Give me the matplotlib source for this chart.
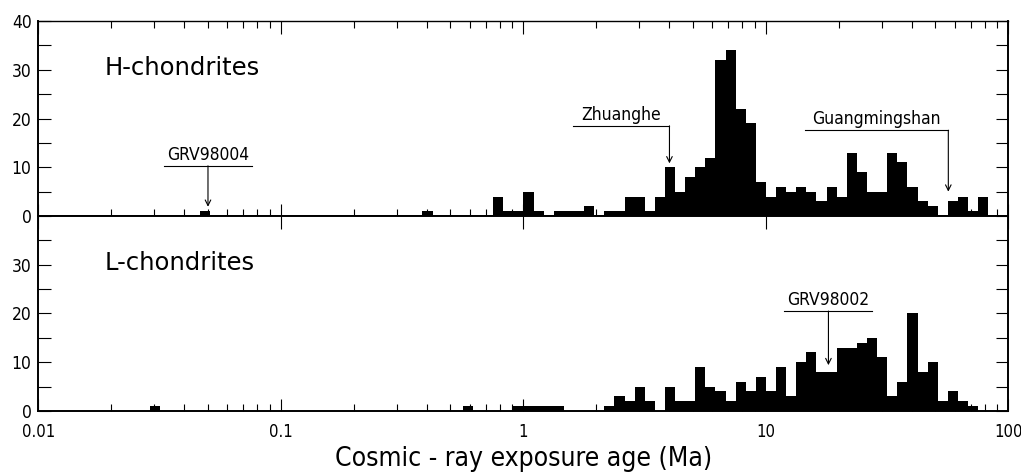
import numpy as np
import matplotlib
matplotlib.use("Agg")
import matplotlib.pyplot as plt
from matplotlib.ticker import FixedLocator, NullFormatter, FixedFormatter

plt.rcParams['font.family'] = ['DejaVu Sans']
plt.rcParams['font.stretch'] = 'condensed'

# histogram bins: 24 per decade, bin k covers 10**(k/24) .. 10**((k+1)/24) Ma
bins_per_decade = 24

# H-chondrites, counts for consecutive bins starting at k = -3 (~0.75 Ma)
h_start = -3
h_counts = [4, 1, 1, 5, 1, 0, 1, 1, 1, 2, 0, 1, 1, 4, 4, 1, 4, 10, 5, 8,
            10, 12, 32, 34, 22, 19, 7, 4, 6, 5, 6, 5, 3, 6, 4, 13, 9, 5, 5, 13,
            11, 6, 3, 2, 0, 3, 4, 1, 4]
h_single_bins = [-32, -10]
h_single_counts = [1, 1]

# L-chondrites, consecutive bins starting at k = -1 (~0.9 Ma)
l_start = -1
l_counts = [1, 1, 1, 1, 1, 0, 0, 0, 0, 1, 3, 2, 5, 2, 0, 5, 2, 2, 9, 5,
            4, 2, 6, 4, 7, 4, 9, 3, 10, 12, 8, 8, 13, 13, 14, 15, 11, 3, 6, 20,
            8, 10, 2, 4, 2, 1]
l_single_bins = [-37, -6]
l_single_counts = [1, 1]

# labelled meteorites: (name, arrow age, arrow tip, line start, line end, line height)
h_notes = [("GRV98004", 0.05, 1.9, 0.033, 0.076, 10.3),
           ("Zhuanghe", 4.0, 10.8, 1.6, 4.0, 18.5),
           ("Guangmingshan", 56.5, 5.0, 14.5, 56.5, 17.6)]
l_notes = [("GRV98002", 18.1, 9.4, 11.9, 27.4, 20.5)]

x_ticks = [0.01, 0.1, 1, 10, 100]
x_ticklabels = ["0.01", "0.1", "1", "10", "100"]
y_ticks = [0, 10, 20, 30, 40]
y_minor = [5, 15, 25, 35]
h_yticklabels = ["0", "10", "20", "30", "40"]
l_yticklabels = ["0", "10", "20", "30", ""]

k_all = np.arange(-2 * bins_per_decade, 2 * bins_per_decade + 1)
edges = 10.0 ** (k_all / bins_per_decade)


def full_counts(start, run, singles, single_counts):
    c = np.zeros(len(edges) - 1)
    i0 = start + 2 * bins_per_decade
    c[i0:i0 + len(run)] = run
    for k, v in zip(singles, single_counts):
        c[k + 2 * bins_per_decade] = v
    return c


fig = plt.figure(figsize=(10.21, 4.73), dpi=100)
ax1 = fig.add_axes([0.0377, 0.5433, 0.950, 0.4123])
ax2 = fig.add_axes([0.0377, 0.1311, 0.950, 0.4123])

panels = [(ax1, full_counts(h_start, h_counts, h_single_bins, h_single_counts), "H-chondrites", h_notes, h_yticklabels),
          (ax2, full_counts(l_start, l_counts, l_single_bins, l_single_counts), "L-chondrites", l_notes, l_yticklabels)]

minor = [m * 10.0 ** e for e in range(-2, 2) for m in range(2, 10)]

for ax, counts, name, notes, ylabels in panels:
    ax.bar(edges[:-1], counts, width=np.diff(edges), align='edge', color='black', linewidth=0)
    ax.set_xscale('log')
    ax.set_xlim(0.01, 100)
    ax.set_ylim(0, 40)
    ax.xaxis.set_major_locator(FixedLocator(x_ticks))
    ax.xaxis.set_minor_locator(FixedLocator(minor))
    ax.xaxis.set_minor_formatter(NullFormatter())
    ax.yaxis.set_major_locator(FixedLocator(y_ticks))
    ax.yaxis.set_minor_locator(FixedLocator(y_minor))
    ax.yaxis.set_major_formatter(FixedFormatter(ylabels))
    ax.tick_params(axis='y', which='both', direction='in', length=9, width=0.8,
                   left=True, right=True, labelsize=12.5, pad=5)
    ax.tick_params(axis='x', which='major', direction='in', length=9, width=0.8, labelsize=12, pad=9)
    ax.tick_params(axis='x', which='minor', direction='in', length=5, width=0.8)
    for s in ax.spines.values():
        s.set_linewidth(1.4)
    ax.text(0.0686, 0.76, name, transform=ax.transAxes, fontsize=17.5,
            fontstretch='normal', va='center', ha='left')
    for label, xa, ytip, x0, x1, yl in notes:
        ax.plot([x0, x1], [yl, yl], color='black', lw=0.8)
        ax.annotate('', xy=(xa, ytip), xytext=(xa, yl),
                    arrowprops=dict(arrowstyle='->', lw=0.8, color='black',
                                    shrinkA=0, shrinkB=0, mutation_scale=10))
        ax.text(np.sqrt(x0 * x1), yl + 0.4, label, fontsize=12.5, ha='center', va='bottom')

# top panel: ticks on top and bottom edges, no x labels
ax1.tick_params(axis='x', which='both', top=True, bottom=True, labelbottom=False)
ax1.spines['top'].set_linewidth(1.0)

# bottom panel: major ticks also on the shared top edge
ax2.tick_params(axis='x', which='major', top=True)
ax2.tick_params(axis='x', which='minor', top=False)
ax2.set_xticklabels(x_ticklabels)
ax2.set_xlabel("Cosmic - ray exposure age (Ma)", fontsize=19, labelpad=3)

fig.savefig("out.png", dpi=100)
